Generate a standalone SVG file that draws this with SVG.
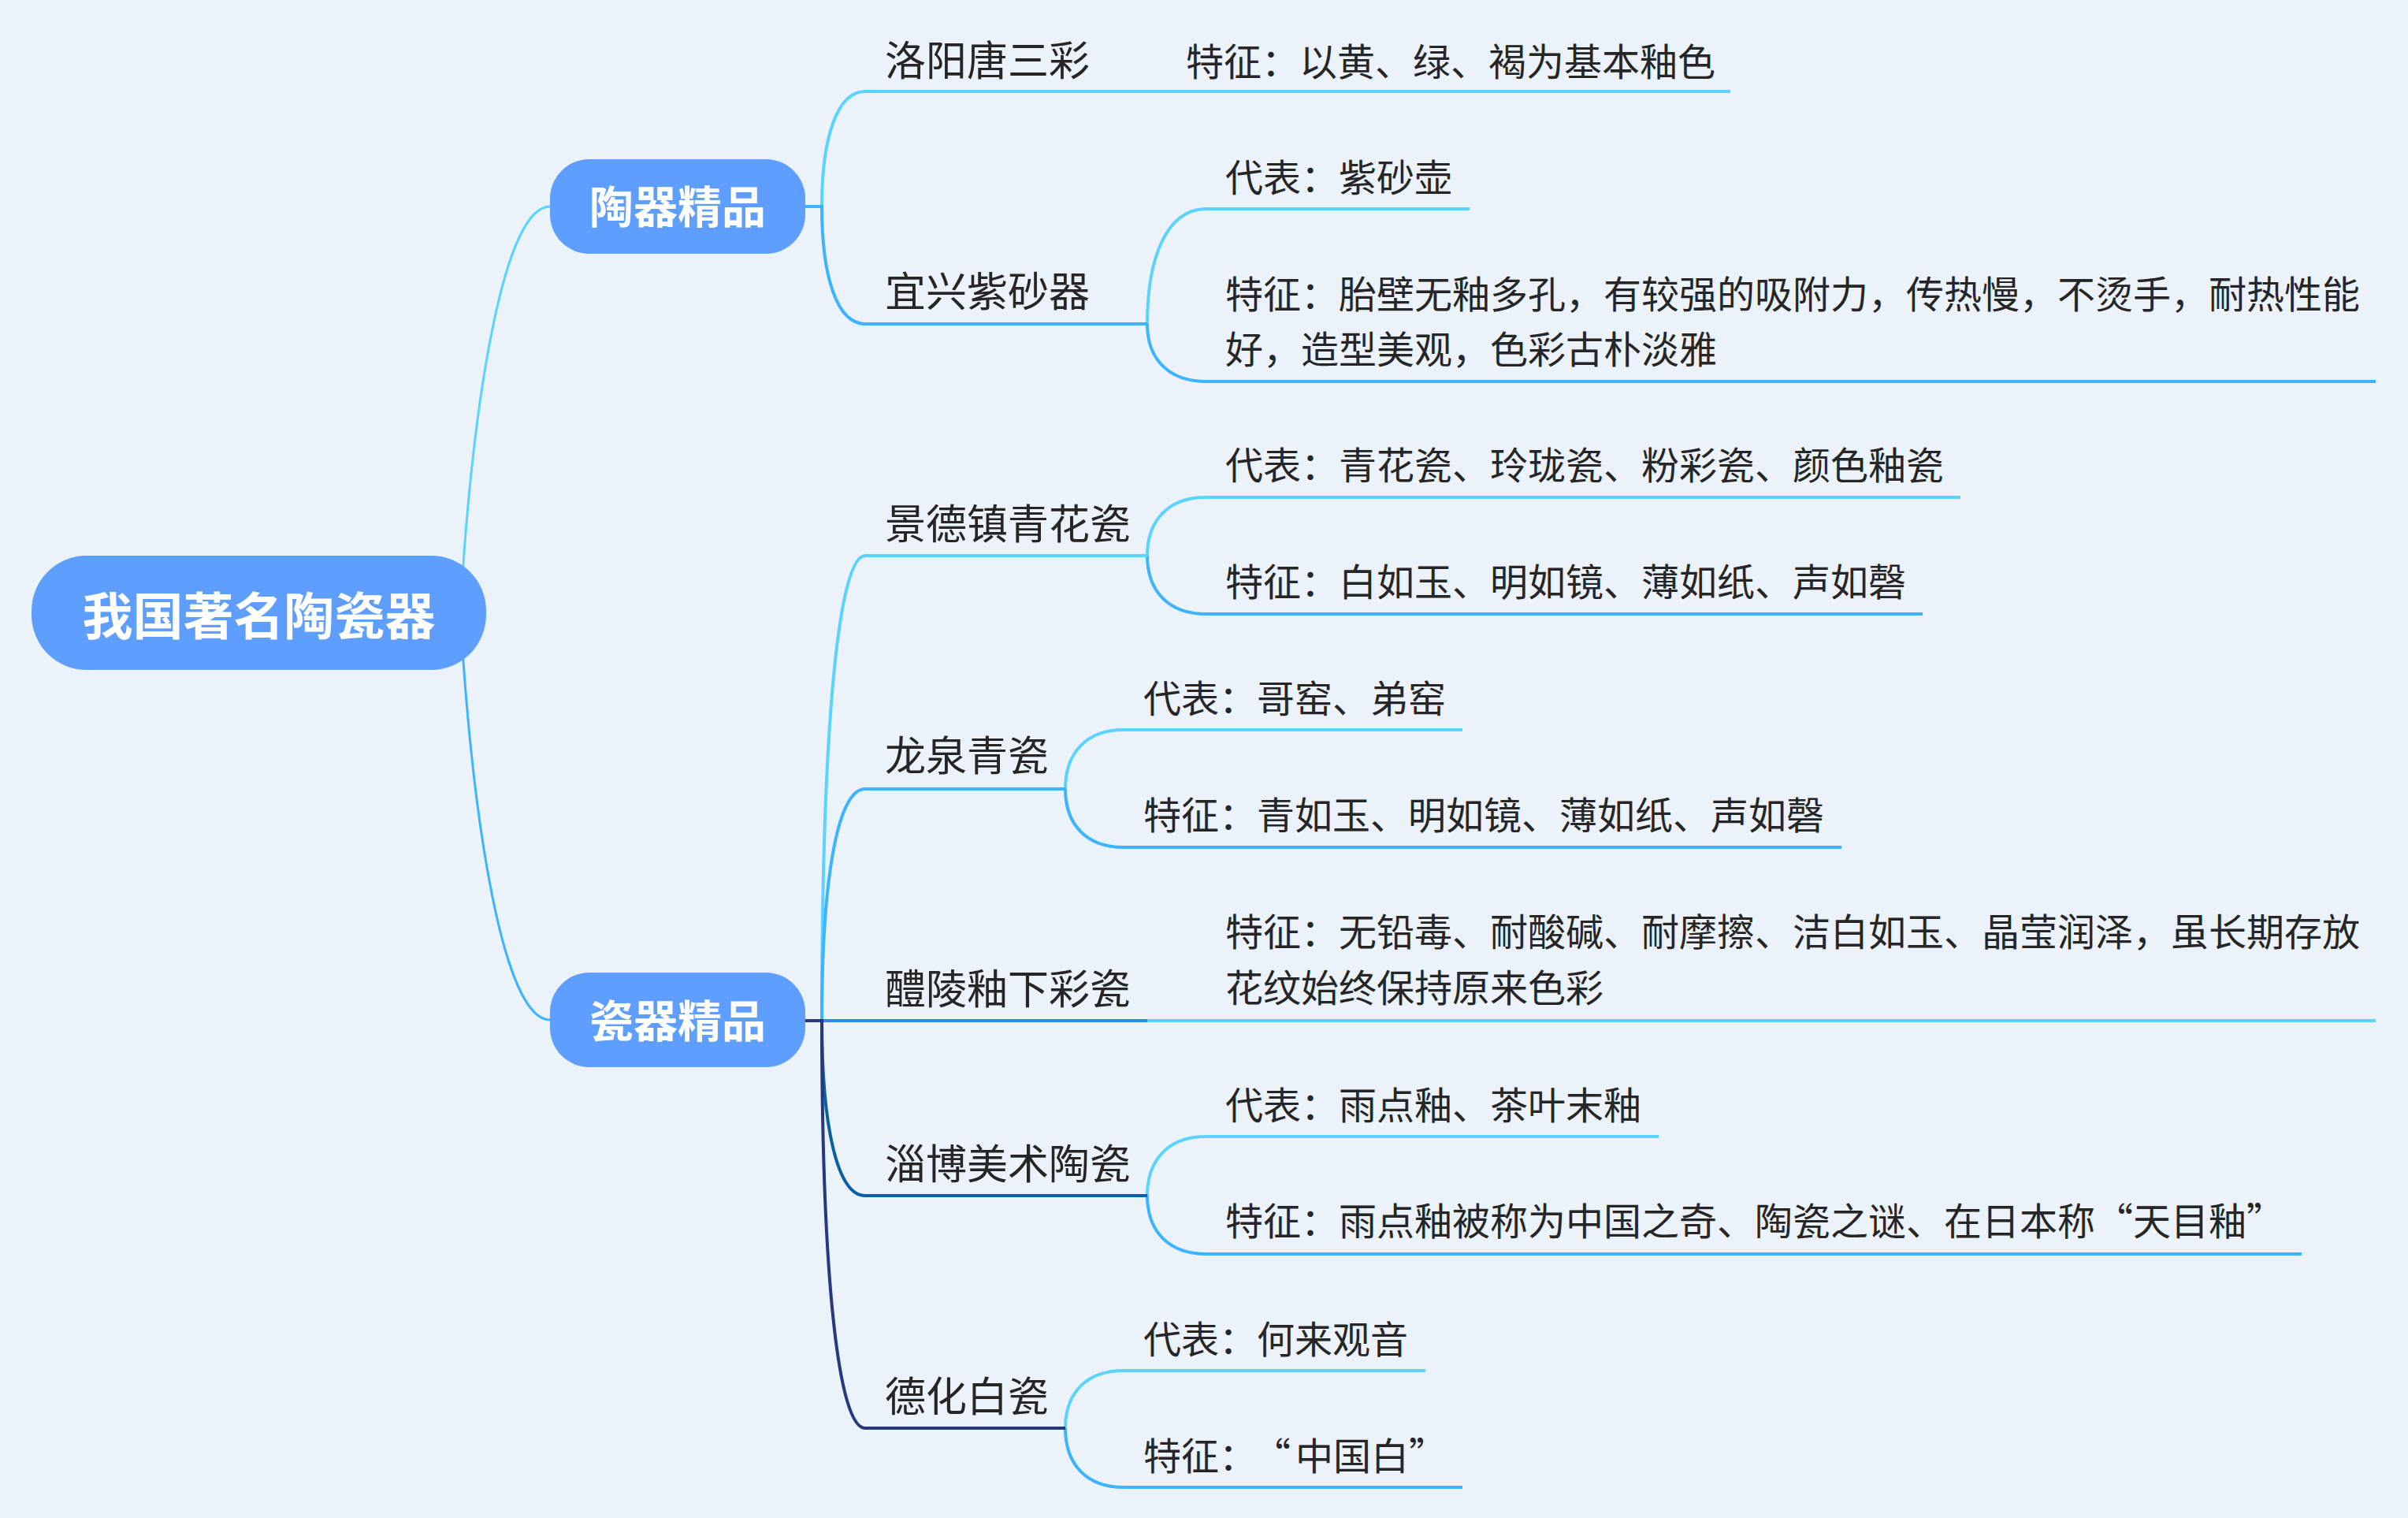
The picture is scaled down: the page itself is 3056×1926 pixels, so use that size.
<svg xmlns="http://www.w3.org/2000/svg" width="3056" height="1926" viewBox="0 0 3056 1926">
<style>
.bg{fill:#EBF2FA}
.node{fill:#5E9EFF}
.t0{font-family:"Noto Sans CJK SC","Noto Sans",sans-serif;font-weight:bold;fill:#FFFFFF;text-anchor:middle}
.t2{font-family:"Noto Sans CJK SC","Noto Sans",sans-serif;font-size:52px;fill:#262626}
.t3{font-family:"Noto Sans CJK SC","Noto Sans",sans-serif;font-size:48px;fill:#262626}
.ln{fill:none;stroke-width:4;stroke-linecap:butt}
.c1{stroke:#5BD3FF}
.c2{stroke:#3CB4FF}
.c3{stroke:#2E8BE6}
.c4{stroke:#0A5FA5}
.c5{stroke:#26397C}
</style>
<rect class="bg" x="0" y="0" width="3056" height="1926"/>

<g id="connectors">
  <path class="ln c1" style="stroke-width:3" d="M584 777 C600 500 640 262 698 262"/>
  <path class="ln c2" style="stroke-width:3" d="M584 777 C600 1054 640 1294 698 1294"/>
  <path class="ln c1" d="M1022 262 H1043 C1043 174.8 1062.3 116 1098 116"/>
  <path class="ln c2" d="M1022 262 H1043 C1043 351.4 1062.3 411 1098 411"/>
  <path class="ln c1" d="M1022 1295 H1043 C1043 941 1062.3 705 1098 705"/>
  <path class="ln c2" d="M1022 1295 H1043 C1043 1118.6 1062.3 1001 1098 1001"/>
  <path class="ln c3" d="M1022 1295 H1098"/>
  <path class="ln c4" d="M1022 1295 H1043 C1043 1428.2 1062.3 1517 1098 1517"/>
  <path class="ln c5" d="M1022 1295 H1043 C1043 1605.2 1062.3 1812 1098 1812"/>
  <path class="ln c1" d="M1456 116 H1531"/>
  <path class="ln c1" d="M1456 411 C1456 323.4 1482.3 265 1531 265"/>
  <path class="ln c2" d="M1456 411 C1456 454.8 1482.3 484 1531 484"/>
  <path class="ln c1" d="M1456 705 C1456 660.6 1482.3 631 1531 631"/>
  <path class="ln c2" d="M1456 705 C1456 749.4 1482.3 779 1531 779"/>
  <path class="ln c1" d="M1352 1001 C1352 956 1377.9 926 1426 926"/>
  <path class="ln c2" d="M1352 1001 C1352 1045.4 1377.9 1075 1426 1075"/>
  <path class="ln c1" d="M1456 1295 H1531"/>
  <path class="ln c1" d="M1456 1517 C1456 1472 1482.3 1442 1531 1442"/>
  <path class="ln c2" d="M1456 1517 C1456 1561.4 1482.3 1591 1531 1591"/>
  <path class="ln c1" d="M1352 1812 C1352 1768.2 1377.9 1739 1426 1739"/>
  <path class="ln c2" d="M1352 1812 C1352 1857 1377.9 1887 1426 1887"/>
</g>

<g id="root">
  <rect class="node" x="40" y="705" width="577" height="145" rx="70" ry="70"/>
  <text class="t0" x="328.5" y="805" font-size="64">我国著名陶瓷器</text>
</g>

<g id="n-taoqi">
  <rect class="node" x="698" y="202" width="324" height="120" rx="50" ry="50"/>
  <text class="t0" x="860" y="283" font-size="56">陶器精品</text>
</g>
<g id="n-ciqi">
  <rect class="node" x="698" y="1234" width="324" height="120" rx="50" ry="50"/>
  <text class="t0" x="860" y="1316" font-size="56">瓷器精品</text>
</g>

<g id="n-luoyang">
  <path class="ln c1" d="M1098 116 H1456"/>
  <text class="t2" x="1123" y="96">洛阳唐三彩</text>
</g>
<g id="n-luoyang-f">
  <path class="ln c1" d="M1531 116 H2196"/>
  <text class="t3" x="1505" y="96">特征：以黄、绿、褐为基本釉色</text>
</g>

<g id="n-yixing">
  <path class="ln c2" d="M1098 411 H1456"/>
  <text class="t2" x="1123" y="389">宜兴紫砂器</text>
</g>
<g id="n-yixing-d">
  <path class="ln c1" d="M1531 265 H1865"/>
  <text class="t3" x="1555" y="243">代表：紫砂壶</text>
</g>
<g id="n-yixing-f">
  <path class="ln c2" d="M1531 484 H3015"/>
  <text class="t3" x="1555" y="391">特征：胎壁无釉多孔，有较强的吸附力，传热慢，不烫手，耐热性能</text>
  <text class="t3" x="1555" y="461">好，造型美观，色彩古朴淡雅</text>
</g>

<g id="n-jingdezhen">
  <path class="ln c1" d="M1098 705 H1456"/>
  <text class="t2" x="1123" y="684">景德镇青花瓷</text>
</g>
<g id="n-jingdezhen-d">
  <path class="ln c1" d="M1531 631 H2488"/>
  <text class="t3" x="1555" y="608">代表：青花瓷、玲珑瓷、粉彩瓷、颜色釉瓷</text>
</g>
<g id="n-jingdezhen-f">
  <path class="ln c2" d="M1531 779 H2440"/>
  <text class="t3" x="1555" y="756">特征：白如玉、明如镜、薄如纸、声如磬</text>
</g>

<g id="n-longquan">
  <path class="ln c2" d="M1098 1001 H1352"/>
  <text class="t2" x="1123" y="978">龙泉青瓷</text>
</g>
<g id="n-longquan-d">
  <path class="ln c1" d="M1426 926 H1856"/>
  <text class="t3" x="1451" y="904">代表：哥窑、弟窑</text>
</g>
<g id="n-longquan-f">
  <path class="ln c2" d="M1426 1075 H2337"/>
  <text class="t3" x="1451" y="1052">特征：青如玉、明如镜、薄如纸、声如磬</text>
</g>

<g id="n-liling">
  <path class="ln c3" d="M1098 1295 H1456"/>
  <text class="t2" x="1123" y="1274">醴陵釉下彩瓷</text>
</g>
<g id="n-liling-f">
  <path class="ln c1" d="M1531 1295 H3015"/>
  <text class="t3" x="1555" y="1200">特征：无铅毒、耐酸碱、耐摩擦、洁白如玉、晶莹润泽，虽长期存放</text>
  <text class="t3" x="1555" y="1271">花纹始终保持原来色彩</text>
</g>

<g id="n-zibo">
  <path class="ln c4" d="M1098 1517 H1456"/>
  <text class="t2" x="1123" y="1496">淄博美术陶瓷</text>
</g>
<g id="n-zibo-d">
  <path class="ln c1" d="M1531 1442 H2105"/>
  <text class="t3" x="1555" y="1420">代表：雨点釉、茶叶末釉</text>
</g>
<g id="n-zibo-f">
  <path class="ln c2" d="M1531 1591 H2921"/>
  <text class="t3" x="1555" y="1567">特征：雨点釉被称为中国之奇、陶瓷之谜、在日本称“天目釉”</text>
</g>

<g id="n-dehua">
  <path class="ln c5" d="M1098 1812 H1352"/>
  <text class="t2" x="1123" y="1791">德化白瓷</text>
</g>
<g id="n-dehua-d">
  <path class="ln c1" d="M1426 1739 H1809"/>
  <text class="t3" x="1451" y="1717">代表：何来观音</text>
</g>
<g id="n-dehua-f">
  <path class="ln c2" d="M1426 1887 H1856"/>
  <text class="t3" x="1451" y="1865">特征：<tspan dx="19">“</tspan><tspan dx="6">中国白”</tspan></text>
</g>
</svg>
